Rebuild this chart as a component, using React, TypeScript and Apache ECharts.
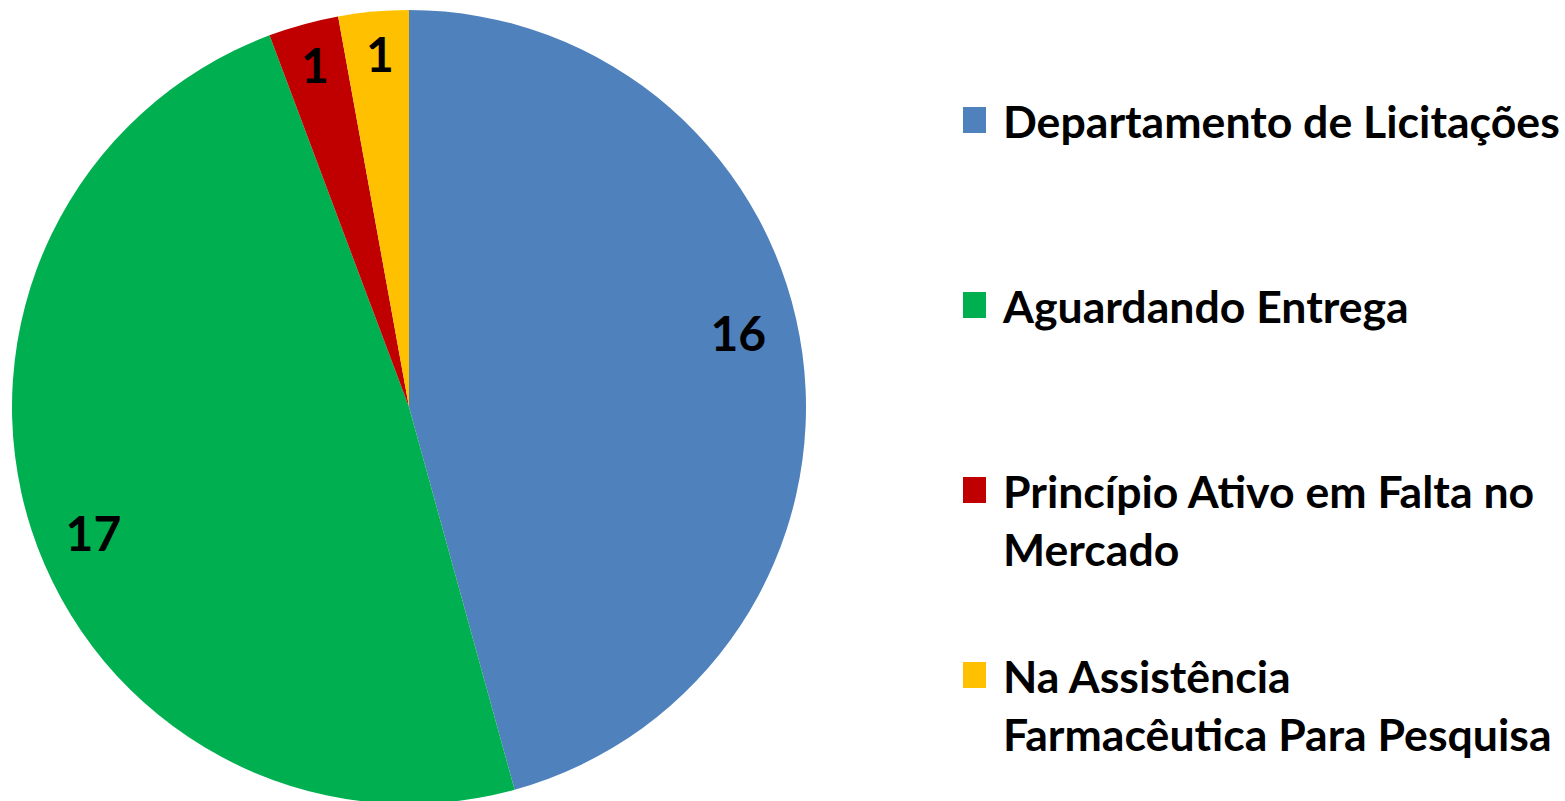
import React, { useEffect, useRef } from "react";
import * as echarts from "echarts";

const categories = [
  "Departamento de Licitações",
  "Aguardando Entrega",
  "Princípio Ativo em Falta no Mercado",
  "Na Assistência Farmacêutica Para Pesquisa",
];
const legendLabels = [
  "Departamento de Licitações",
  "Aguardando Entrega",
  "Princípio Ativo em Falta no\nMercado",
  "Na Assistência\nFarmacêutica Para Pesquisa",
];
const values = [16, 17, 1, 1];
const colors = ["#4F81BD", "#00B050", "#C00000", "#FFC000"];

const FONT = "Lato";
const LINE = 58;

export default function App() {
  const ref = useRef<HTMLDivElement>(null);
  useEffect(() => {
    if (!ref.current) return;
    const chart = echarts.init(ref.current, undefined, { renderer: "svg" });
    const data = categories.map((name, i) => ({
      name,
      value: values[i],
      itemStyle: { color: colors[i] },
    }));
    const legendTops = [91, 276, 403, 588];
    const legends = categories.map((name, i) => {
      const multi = legendLabels[i].includes("\n");
      return {
        show: true,
        orient: "vertical",
        left: 963,
        top: legendTops[i],
        padding: 0,
        itemWidth: 23,
        itemHeight: 26,
        icon: "rect",
        selectedMode: false,
        data: [name],
        formatter: () => (multi ? "\n" : "") + legendLabels[i],
        textStyle: {
          fontFamily: FONT,
          fontWeight: "bold",
          fontSize: 44.6,
          color: "#000",
          lineHeight: LINE,
          padding: [0, 0, 0, 12],
        },
      };
    });
    const labelOffsets = [
      [-14, -28],
      [14, 18],
      [-2, -8],
      [2, -8],
    ];
    chart.setOption({
      animation: false,
      backgroundColor: "#fff",
      legend: legends,
      series: [
        {
          type: "pie",
          center: [409, 407],
          radius: [0, 397],
          startAngle: 90,
          clockwise: true,
          silent: true,
          data,
          label: { show: false },
          labelLine: { show: false },
        },
        {
          type: "pie",
          center: [409, 407],
          radius: [290, 397],
          startAngle: 90,
          clockwise: true,
          silent: true,
          data: categories.map((name, i) => ({
            name,
            value: values[i],
            itemStyle: { color: "rgba(0,0,0,0)" },
            label: { offset: labelOffsets[i] },
          })),
          label: {
            show: true,
            position: "inside",
            formatter: "{c}",
            fontFamily: FONT,
            fontWeight: "bold",
            fontSize: 48,
            color: "#000",
          },
          labelLine: { show: false },
        },
      ],
    });
    return () => chart.dispose();
  }, []);
  return (
    <div
      ref={ref}
      style={{ position: "fixed", left: 0, top: 0, width: 1565, height: 801 }}
    />
  );
}
